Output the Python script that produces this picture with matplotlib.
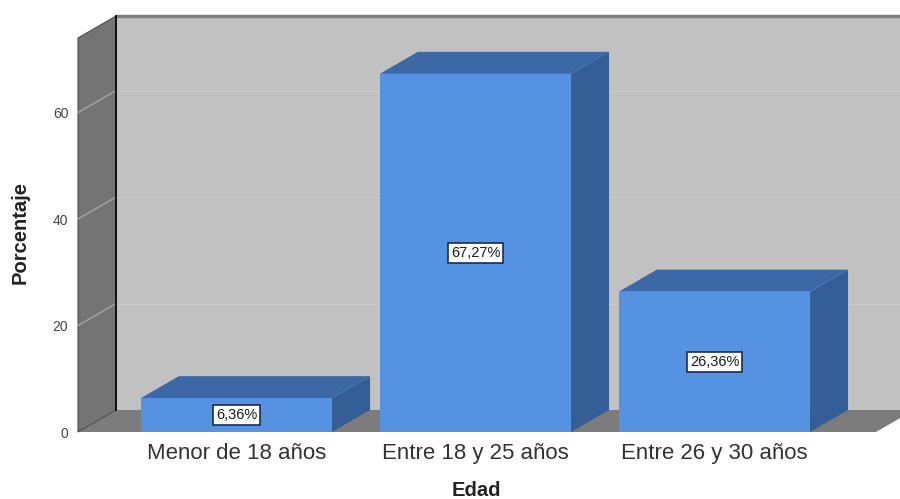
import matplotlib
matplotlib.use("Agg")
import matplotlib.pyplot as plt
from matplotlib.patches import Polygon, Rectangle
from matplotlib.transforms import ScaledTranslation

# Data
categories = ["Menor de 18 años", "Entre 18 y 25 años", "Entre 26 y 30 años"]
percentages = [6.36, 67.27, 26.36]
value_labels = ["6,36%", "67,27%", "26,36%"]
y_ticks = [0, 20, 40, 60]

plt.rcParams["font.family"] = ["Liberation Sans", "DejaVu Sans"]

fig = plt.figure(figsize=(9, 4.99), dpi=100)
ax = fig.add_axes([78 / 900, 67 / 499, 798 / 900, 394 / 499])
x0, x1 = -0.663, 2.676
ymax = 74
ax.set_xlim(x0, x1)
ax.set_ylim(0, ymax)
for s in ax.spines.values():
    s.set_visible(False)
ax.patch.set_visible(False)

# 3D depth offset (to the right and up)
depth = ScaledTranslation(0.38, 0.22, fig.dpi_scale_trans)
back = ax.transData + depth
inv = ax.transData.inverted()


def shifted(x, y):
    return tuple(inv.transform(back.transform((x, y))))


def poly(pts, **kw):
    p = Polygon(pts, closed=True, clip_on=False, **kw)
    ax.add_patch(p)
    return p


# Back wall
bx0, by0 = shifted(x0, 0)
bx1, by1 = shifted(x1, ymax)
poly([(bx0, by0), (bx1 + 0.5, by0), (bx1 + 0.5, by1), (bx0, by1)],
     facecolor="#c1c1c1", edgecolor="none", zorder=1)
ax.plot([bx0, bx1 + 0.5], [by1, by1], color="#7d7d7d", lw=2.5,
        clip_on=False, zorder=1.2, solid_capstyle="butt")
for t in y_ticks[1:]:
    gx, gy = shifted(x0, t)
    ax.plot([gx, bx1 + 0.5], [gy, gy], color="#cacaca", lw=1.0,
            clip_on=False, zorder=1.1)

# Floor
poly([(x0, 0), (x1, 0), shifted(x1, 0), (bx1 + 0.5, by0), shifted(x0, 0)],
     facecolor="#7c7c7c", edgecolor="none", zorder=2)

# Left wall
poly([(x0, 0), (x0, ymax), shifted(x0, ymax), shifted(x0, 0)],
     facecolor="#747474", edgecolor="#505050", lw=0.8, zorder=3)
for t in y_ticks[1:]:
    gx, gy = shifted(x0, t)
    ax.plot([x0, gx], [t, gy], color="#a5a5a5", lw=1.0,
            clip_on=False, zorder=3.1)
ax.plot([bx0, bx0], [by0, by1], color="#111111", lw=1.4,
        clip_on=False, zorder=3.2)

# Bars
width = 0.8
front_c, top_c, side_c = "#5592e2", "#3c68a6", "#355e97"
for i, v in enumerate(percentages):
    xl, xr = i - width / 2, i + width / 2
    poly([(xr, 0), (xr, v), shifted(xr, v), shifted(xr, 0)],
         facecolor=side_c, edgecolor="none", zorder=4)
    poly([(xl, v), (xr, v), shifted(xr, v), shifted(xl, v)],
         facecolor=top_c, edgecolor="none", zorder=4)
    ax.add_patch(Rectangle((xl, 0), width, v, facecolor=front_c,
                           edgecolor="none", clip_on=False, zorder=5))
    ax.text(i, v / 2, value_labels[i], ha="center", va="center",
            fontsize=10.5, color="#1a1a1a", zorder=6,
            bbox=dict(boxstyle="square,pad=0.2", facecolor="white",
                      edgecolor="#1b2b55", lw=1.2))

# Axes ticks and labels
ax.set_xticks(range(len(categories)))
ax.set_xticklabels(categories, fontsize=16, color="#333333")
ax.set_yticks(y_ticks)
ax.set_yticklabels([str(t) for t in y_ticks], fontsize=10, color="#444444")
ax.tick_params(axis="x", length=0, pad=8)
ax.tick_params(axis="y", length=0, pad=7)

fig.text(476 / 900, 9 / 499, "Edad", ha="center", va="center",
         fontsize=14.5, fontweight="bold", color="#222222")
fig.text(20 / 900, 1 - 232 / 499, "Porcentaje", ha="center", va="center",
         rotation=90, fontsize=14.5, fontweight="bold", color="#222222")

fig.savefig("out.png", dpi=100)
